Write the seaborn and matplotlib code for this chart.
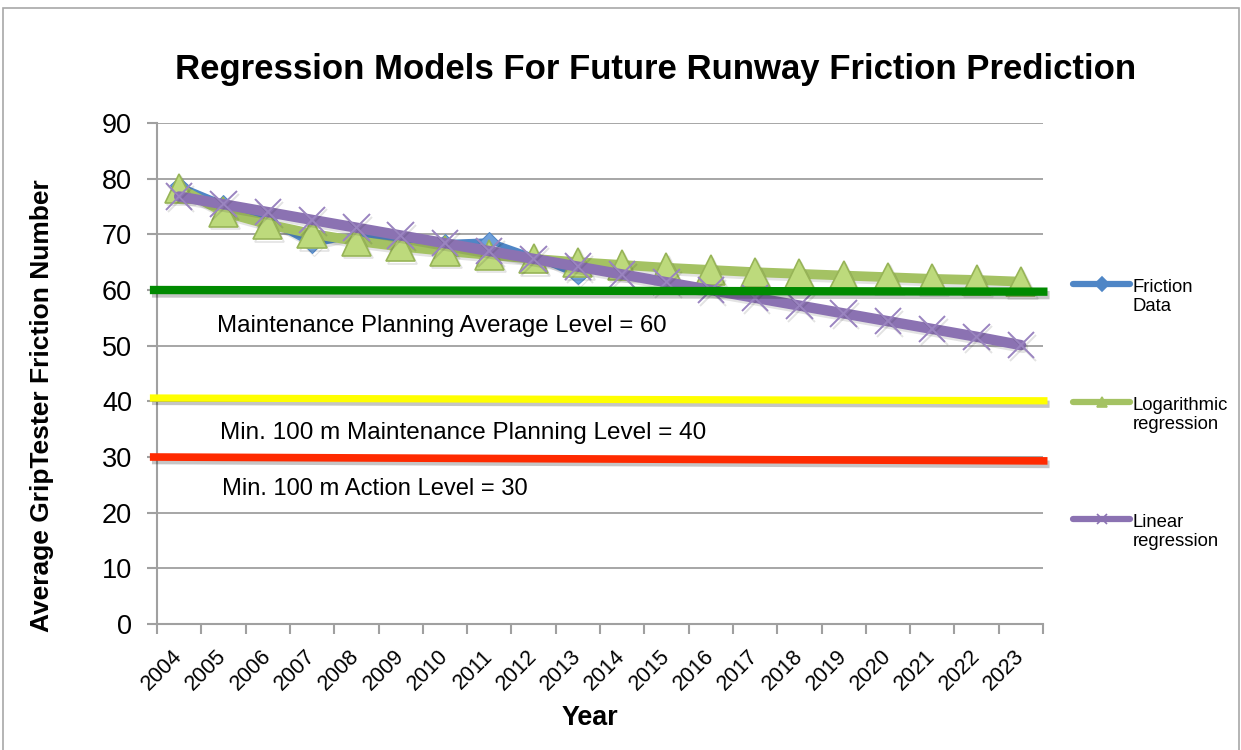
"""Regression models for future runway friction prediction (recreated chart)."""
import matplotlib
matplotlib.use("Agg")
import matplotlib.pyplot as plt
import matplotlib.patheffects as pe
from matplotlib.lines import Line2D
from matplotlib.patches import Rectangle
import pandas as pd
import seaborn as sns

# ---- data ----
years = list(range(2004, 2024))
friction_years = list(range(2004, 2014))
friction_data = [78.8, 75.5, 72.5, 68.2, 69.8, 68.8, 68.5, 68.8, 66.0, 62.6]
log_regression = [78.3, 74.0, 71.8, 70.1, 68.8, 67.8, 67.0, 66.3, 65.6, 65.0,
                  64.5, 64.0, 63.6, 63.2, 62.9, 62.6, 62.3, 62.0, 61.8, 61.5]
linear_regression = [76.8, 75.4, 74.0, 72.6, 71.2, 69.8, 68.4, 67.0, 65.6, 64.2,
                     62.8, 61.4, 60.0, 58.6, 57.2, 55.8, 54.4, 53.0, 51.6, 50.1]

level_names = ["Maintenance Planning Average Level = 60",
               "Min. 100 m Maintenance Planning Level = 40",
               "Min. 100 m Action Level = 30"]
level_start = [60.0, 40.6, 30.0]
level_end = [59.7, 40.1, 29.3]
level_colors = ["#008A00", "#FFFF00", "#FF2A00"]

sns.set_theme(style="white")
plt.rcParams["font.family"] = ["Liberation Sans", "DejaVu Sans"]
plt.rcParams.update({"text.color": "black", "axes.labelcolor": "black",
                     "xtick.color": "black", "ytick.color": "black"})

fig = plt.figure(figsize=(12.41, 7.5), dpi=100)
ax = fig.add_axes([0.1265, 0.168, 0.714, 0.668])

shadow = [pe.SimpleLineShadow(offset=(1.5, -2), alpha=0.12, shadow_color="k"), pe.Normal()]

fr = pd.DataFrame({"year": friction_years, "value": friction_data})
reg = pd.DataFrame({"year": years, "log": log_regression, "lin": linear_regression})

sns.lineplot(data=fr, x="year", y="value", ax=ax, color="#4F86C6", lw=4,
             marker="D", ms=9, mfc="#6FA0DA", mec="#4F86C6", zorder=3,
             path_effects=shadow)
sns.lineplot(data=reg, x="year", y="log", ax=ax, color="#A4C263", lw=7,
             marker="^", ms=21, mfc="#BDDA7C", mec="#97B457", mew=1.2, zorder=4,
             path_effects=shadow)
sns.lineplot(data=reg, x="year", y="lin", ax=ax, color="#8B72B2", lw=7.5,
             marker="x", ms=19, mec="#9A84C0", mew=1.4, zorder=5,
             path_effects=shadow)

# threshold lines drawn over the series, slightly past the plot area
x0, x1 = 2003.34, 2023.6
for y0, y1, c, lw in zip(level_start, level_end, level_colors, [6, 5.2, 5.5]):
    ax.plot([x0, x1], [y0, y1], color=c, lw=lw, solid_capstyle="butt",
            clip_on=False, zorder=6,
            path_effects=[pe.SimpleLineShadow(offset=(1.5, -2.5), alpha=0.25), pe.Normal()])

ax.text(2004.85, 53.5, level_names[0], fontsize=17.3, va="center", ha="left")
ax.text(2004.92, 34.3, level_names[1], fontsize=17.5, va="center", ha="left")
ax.text(2004.97, 24.2, level_names[2], fontsize=17.1, va="center", ha="left")

# axes styling
ax.set_ylim(0, 90)
ax.set_yticks(range(0, 91, 10))
ax.set_xlim(2003.5, 2023.5)
ax.set_xticks([y - 0.5 for y in years] + [2023.5])
ax.set_xticklabels([])
ax.set_xticks(years, minor=True)
ax.set_xticklabels([str(y) for y in years], minor=True, rotation=45,
                   ha="right", va="center", rotation_mode="anchor", fontsize=15.5)
ax.tick_params(axis="x", which="major", length=7, width=1.5, color="#A0A0A0", direction="out", bottom=True)
ax.tick_params(axis="x", which="minor", length=0, pad=21)
ax.tick_params(axis="y", length=7, width=1.5, color="#A0A0A0", direction="out", left=True,
               labelsize=19.5, pad=11)
ax.grid(axis="y", color="#A6A6A6", lw=1.4)
ax.grid(axis="x", visible=False)
for side in ["top", "right"]:
    ax.spines[side].set_visible(False)
for side in ["left", "bottom"]:
    ax.spines[side].set_color("#A0A0A0")
    ax.spines[side].set_linewidth(1.5)

ax.set_xlabel("")
ax.set_ylabel("")
fig.text(0.475, 0.043, "Year", fontsize=19.4, fontweight="bold", ha="center", va="center")
fig.text(0.034, 0.459, "Average GripTester Friction Number", fontsize=19, fontweight="bold",
         rotation=90, ha="center", va="center")
fig.text(0.528, 0.907, "Regression Models For Future Runway Friction Prediction",
         fontsize=25, fontweight="bold", ha="center", va="center")

# legend, built by hand so the entries sit far apart like the original
legend_items = [("Friction\nData", "#4F86C6", "D", 284),
                ("Logarithmic\nregression", "#A4C263", "^", 402),
                ("Linear\nregression", "#8B72B2", "x", 519)]
W, H = 1241, 750
for label, c, m, ypx in legend_items:
    yf = 1 - ypx / H
    fig.add_artist(Line2D([1073 / W, 1130 / W], [yf, yf], color=c, lw=4.5,
                          solid_capstyle="round", transform=fig.transFigure))
    fig.add_artist(Line2D([1101.5 / W], [yf], color=c, marker=m, ms=7, mew=1.2,
                          transform=fig.transFigure))
    fig.text(1133 / W, 1 - (ypx - 5) / H, label, fontsize=13.3, va="top", ha="left",
             linespacing=1.15)

fig.add_artist(Rectangle((3 / W, -0.02), 1236 / W, 1.02 - 8 / H, fill=False,
                         edgecolor="#A8A8A8", lw=1.2, transform=fig.transFigure))

fig.savefig("out.png", dpi=100, facecolor="white")
